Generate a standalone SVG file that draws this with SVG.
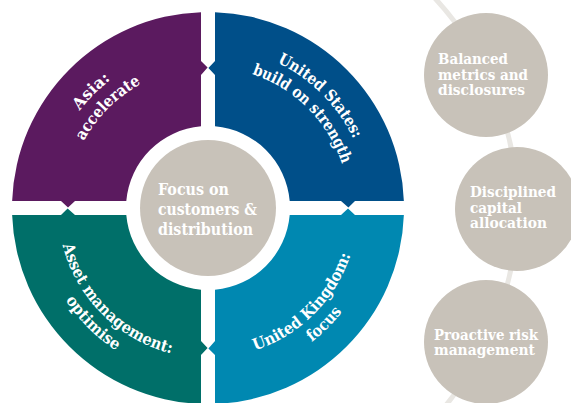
<svg xmlns="http://www.w3.org/2000/svg" xmlns:xlink="http://www.w3.org/1999/xlink" width="571" height="403" viewBox="0 0 571 403">
<style>
.t{font-family:"DejaVu Serif","Liberation Serif",serif;font-weight:bold;fill:#ffffff;}
.q{font-size:16px;}
.c{font-size:16px;}
.s{font-size:15px;}
.gray{fill:#c8c2b9;}
</style>
<defs>
<path id="quad" d="M201,12.13 L201,61 L207.6,67.6 L201,75 L201,126.3 A82,82 0 0 0 126.3,201 L75,201 L68,207.6 L61,201 L12.13,201 A196,196 0 0 1 201,12.13 Z"/>
<path id="us1" d="M208,47 A161,161 0 0 1 369,208"/>
<path id="us2" d="M208,67 A141,141 0 0 1 349,208"/>
<path id="as1" d="M47,208 A161,161 0 0 1 208,47"/>
<path id="as2" d="M67,208 A141,141 0 0 1 208,67"/>
<path id="am1" d="M58,208 A150,150 0 0 0 208,358"/>
<path id="am2" d="M38.5,208 A169.5,169.5 0 0 0 208,377.5"/>
<path id="uk1" d="M208,358 A150,150 0 0 0 358,208"/>
<path id="uk2" d="M208,377.5 A169.5,169.5 0 0 0 377.5,208"/>
</defs>
<rect width="571" height="403" fill="#ffffff"/>
<g id="connectors">
<circle cx="208" cy="208" r="309" fill="none" stroke="#e9e7e3" stroke-width="5"/>
</g>
<g id="asia">
<use xlink:href="#quad" fill="#5b1a5f"/>
<text class="t q"><textPath xlink:href="#as1" startOffset="50%" text-anchor="middle" textLength="44" lengthAdjust="spacingAndGlyphs">Asia:</textPath></text>
<text class="t q"><textPath xlink:href="#as2" startOffset="50%" text-anchor="middle" textLength="82" lengthAdjust="spacingAndGlyphs">accelerate</textPath></text>
</g>
<g id="united-states">
<use xlink:href="#quad" fill="#004f89" transform="rotate(90 208 208)"/>
<text class="t q"><textPath xlink:href="#us1" startOffset="50%" text-anchor="middle" textLength="110" lengthAdjust="spacingAndGlyphs">United States:</textPath></text>
<text class="t q"><textPath xlink:href="#us2" startOffset="50%" text-anchor="middle" textLength="132" lengthAdjust="spacingAndGlyphs">build on strength</textPath></text>
</g>
<g id="united-kingdom">
<use xlink:href="#quad" fill="#0088b1" transform="rotate(180 208 208)"/>
<text class="t q"><textPath xlink:href="#uk1" startOffset="50%" text-anchor="middle" textLength="140" lengthAdjust="spacingAndGlyphs">United Kingdom:</textPath></text>
<text class="t q"><textPath xlink:href="#uk2" startOffset="50%" text-anchor="middle" textLength="43" lengthAdjust="spacingAndGlyphs">focus</textPath></text>
</g>
<g id="asset-management">
<use xlink:href="#quad" fill="#006f69" transform="rotate(270 208 208)"/>
<text class="t q"><textPath xlink:href="#am1" startOffset="50%" text-anchor="middle" textLength="161" lengthAdjust="spacingAndGlyphs">Asset management:</textPath></text>
<text class="t q"><textPath xlink:href="#am2" startOffset="50%" text-anchor="middle" textLength="72" lengthAdjust="spacingAndGlyphs">optimise</textPath></text>
</g>
<g id="focus">
<circle class="gray" cx="208" cy="208" r="68"/>
<text class="t c" x="158" y="195" textLength="71" lengthAdjust="spacingAndGlyphs">Focus on</text>
<text class="t c" x="158" y="215" textLength="99" lengthAdjust="spacingAndGlyphs">customers &amp;</text>
<text class="t c" x="158" y="235" textLength="95" lengthAdjust="spacingAndGlyphs">distribution</text>
</g>
<g id="balanced-metrics">
<circle class="gray" cx="486" cy="75" r="62"/>
<text class="t s" x="438" y="64" textLength="70" lengthAdjust="spacingAndGlyphs">Balanced</text>
<text class="t s" x="438" y="79.5" textLength="90" lengthAdjust="spacingAndGlyphs">metrics and</text>
<text class="t s" x="438" y="95" textLength="87" lengthAdjust="spacingAndGlyphs">disclosures</text>
</g>
<g id="disciplined-capital">
<circle class="gray" cx="517" cy="209" r="62"/>
<text class="t s" x="470" y="197" textLength="86" lengthAdjust="spacingAndGlyphs">Disciplined</text>
<text class="t s" x="470" y="212.5" textLength="52" lengthAdjust="spacingAndGlyphs">capital</text>
<text class="t s" x="470" y="228" textLength="77" lengthAdjust="spacingAndGlyphs">allocation</text>
</g>
<g id="proactive-risk">
<circle class="gray" cx="486" cy="342" r="62"/>
<text class="t s" x="434" y="339.5" textLength="104" lengthAdjust="spacingAndGlyphs">Proactive risk</text>
<text class="t s" x="434" y="355" textLength="101" lengthAdjust="spacingAndGlyphs">management</text>
</g>
</svg>
